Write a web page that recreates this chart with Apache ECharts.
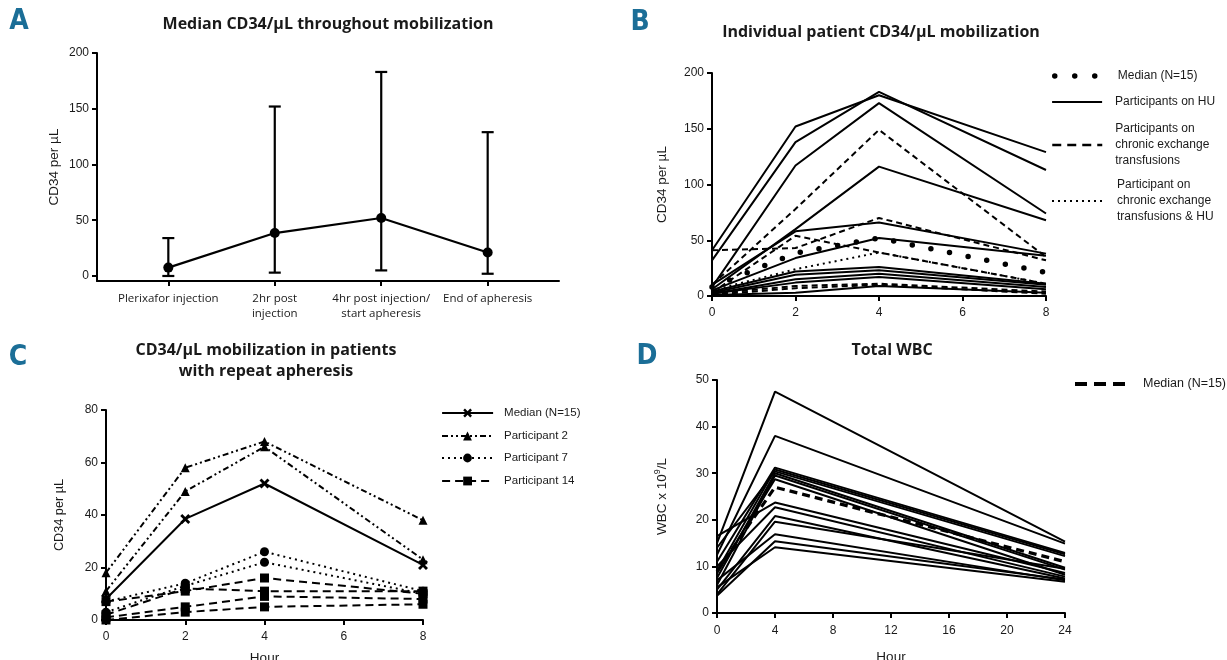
<!DOCTYPE html>
<html>
<head>
<meta charset="utf-8">
<title>CD34 mobilization</title>
<script src="https://cdn.jsdelivr.net/npm/echarts@6/dist/echarts.min.js"></script>
<style>
html,body{margin:0;padding:0;background:#fff;}
#chart{width:1227px;height:660px;}
</style>
</head>
<body>
<div id="chart"></div>
<script>
// ---------- Panel A : median with range ----------
const catsA = ['Plerixafor injection', '2hr post\ninjection', '4hr post injection/\nstart apheresis', 'End of apheresis'];
const medianA = [7.5, 38.5, 52, 21];
const lowA = [0, 3, 5, 2];
const highA = [34, 152, 183, 129];
const ticksA = [0, 50, 100, 150, 200];

// ---------- Panel B : individual patients ----------
const hoursB = [0, 2, 4, 8];
const medianB = [8, 38.5, 52, 21];
const huB = [
  [41, 152, 180, 129],
  [32, 138, 183, 113],
  [8, 117, 173, 74],
  [6, 60, 116, 68],
  [10, 58, 66, 38],
  [5, 34, 52, 36],
  [4, 22, 26, 11],
  [3, 19, 23, 10],
  [2, 15, 20, 8],
  [2, 12, 17, 6],
  [1, 3, 9, 3]
];
const exchangeB = [
  [10, 78, 149, 35],
  [41, 43, 70, 32],
  [3, 54, 39, 11],
  [2, 9, 11, 4],
  [1, 7, 10, 2]
];
const exchangeHuB = [5, 24, 39, 11];

// ---------- Panel C : repeat apheresis ----------
const hoursC = [0, 2, 4, 8];
const medianC = [8, 38.5, 52, 21];
const p2C = [[18, 58, 68, 38], [11, 49, 66, 23]];
const p7C = [[7, 14, 26, 11], [3, 13, 22, 10]];
const p14C = [[7, 11, 16, 10], [2, 12, 11, 11], [1, 5, 9, 8], [0, 3, 5, 6]];

// ---------- Panel D : total WBC ----------
const hoursD = [0, 4, 24];
const medianD = [9, 27, 11];
const wbcD = [
  [15, 47.5, 15.3],
  [12.5, 38, 14.9],
  [11, 31.2, 12.9],
  [9, 30.8, 12.6],
  [14, 30.4, 12.2],
  [7.5, 30, 9.7],
  [6, 29.5, 9.3],
  [8.5, 28.7, 8.2],
  [16.5, 23.7, 8.6],
  [10, 22.7, 7.8],
  [5, 20.8, 7.4],
  [4, 19.6, 9.5],
  [7, 16.9, 7.0],
  [3.7, 15.4, 7.2],
  [5.5, 14.1, 6.7]
];

// ---------- helpers ----------
const SANS = "'Liberation Sans', Arial, sans-serif";
const HUMAN = "'Open Sans', 'Noto Sans', sans-serif";
const INK = '#1a1a1a';
const LETTER = '#1b6e97';

function merge(a, b) {
  const out = Object.assign({}, a);
  for (const k in b) {
    const bv = b[k], av = a[k];
    if (bv && typeof bv === 'object' && !Array.isArray(bv) && typeof bv !== 'function' &&
        av && typeof av === 'object' && !Array.isArray(av)) out[k] = merge(av, bv);
    else out[k] = bv;
  }
  return out;
}
const axisBase = {
  type: 'value',
  axisLine: { show: true, onZero: false, lineStyle: { color: '#000', width: 2 } },
  axisTick: { show: true, length: 5, lineStyle: { color: '#000', width: 2 } },
  splitLine: { show: false },
  axisLabel: { color: INK, fontFamily: SANS, fontSize: 12, margin: 8 },
  nameTextStyle: { color: INK, fontFamily: SANS, fontSize: 13.5 }
};
const ax = (o) => merge(axisBase, o);

function pts(xs, ys) { return xs.map((x, i) => [x, ys[i]]); }
function line(name, gi, xs, ys, lineStyle, extra) {
  return merge({
    type: 'line', name: name, xAxisIndex: gi, yAxisIndex: gi,
    data: pts(xs, ys), symbol: 'none', clip: false, silent: true,
    lineStyle: merge({ color: '#000', width: 2 }, lineStyle || {}),
    itemStyle: { color: '#000' }
  }, extra || {});
}

const series = [];
// Panel A
series.push({
  type: 'custom', name: 'rangeA', xAxisIndex: 0, yAxisIndex: 0, silent: true, clip: false,
  data: medianA.map((m, i) => [i, lowA[i], highA[i]]),
  renderItem: function (params, api) {
    const x = api.value(0);
    const lo = api.coord([x, api.value(1)]);
    const hi = api.coord([x, api.value(2)]);
    const w = 6, st = { stroke: '#000', lineWidth: 2.2 };
    return { type: 'group', children: [
      { type: 'line', shape: { x1: lo[0], y1: lo[1], x2: hi[0], y2: hi[1] }, style: st },
      { type: 'line', shape: { x1: hi[0] - w, y1: hi[1], x2: hi[0] + w, y2: hi[1] }, style: st },
      { type: 'line', shape: { x1: lo[0] - w, y1: lo[1], x2: lo[0] + w, y2: lo[1] }, style: st }
    ] };
  }
});
series.push(line('Median A', 0, [0, 1, 2, 3], medianA, { width: 2.2 }, { symbol: 'circle', symbolSize: 10, z: 5 }));

// Panel B
huB.forEach(r => series.push(line('Participants on HU', 1, hoursB, r, { type: 'solid' })));
exchangeB.forEach(r => series.push(line('Participants on\nchronic exchange\ntransfusions', 1, hoursB, r, { type: [6, 4] })));
series.push(line('Participant on\nchronic exchange\ntransfusions & HU', 1, hoursB, exchangeHuB, { type: [2, 4] }));
series.push(line('Median (N=15)', 1, hoursB, medianB, { width: 5.5, type: [0, 19], cap: 'round' }, { z: 6 }));

// Panel C
const xPath = 'path://M2,0L5,3L8,0L10,2L7,5L10,8L8,10L5,7L2,10L0,8L3,5L0,2Z';
series.push(line('Median (N=15) ', 2, hoursC, medianC, { type: 'solid' }, { symbol: xPath, symbolSize: 10, z: 6 }));
p2C.forEach(r => series.push(line('Participant 2', 2, hoursC, r, { type: [6, 3, 2, 3, 2, 3] }, { symbol: 'triangle', symbolSize: 9 })));
p7C.forEach(r => series.push(line('Participant 7', 2, hoursC, r, { type: [2, 4] }, { symbol: 'circle', symbolSize: 9 })));
p14C.forEach(r => series.push(line('Participant 14', 2, hoursC, r, { type: [8, 5] }, { symbol: 'rect', symbolSize: 9 })));

// Panel D
wbcD.forEach((r, i) => series.push(line('Patient ' + (i + 1), 3, hoursD, r, { type: 'solid' })));
series.push(line('Median (N=15)  ', 3, hoursD, medianD, { width: 3.2, type: [8, 5] }, { z: 6 }));

// ---------- legends ----------
const legTxt = (size, pad) => ({ color: INK, fontFamily: SANS, fontSize: size, lineHeight: 16, padding: [0, 0, 0, pad] });
function legend(name, left, centerY, lines, w, h, lineStyle, txt, showSym) {
  return {
    left: left, top: centerY - lines * 8, orient: 'vertical', padding: 0,
    selectedMode: false, itemWidth: w, itemHeight: h, data: [name],
    lineStyle: lineStyle, itemStyle: showSym ? {} : { opacity: 0 },
    textStyle: txt
  };
}
const legends = [
  legend('Median (N=15)', 1052, 76, 1, 44, 12, { width: 5.5, type: [0, 20], cap: 'round' }, legTxt(12, 14), false),
  legend('Participants on HU', 1051, 102, 1, 50, 12, { width: 2.2, type: 'solid' }, legTxt(12, 8), false),
  legend('Participants on\nchronic exchange\ntransfusions', 1051, 145, 3, 50, 12, { width: 2.5, type: [9, 6] }, legTxt(12, 8), false),
  legend('Participant on\nchronic exchange\ntransfusions & HU', 1051, 201, 3, 50, 12, { width: 2, type: [2, 4] }, legTxt(12, 10), false),
  legend('Median (N=15) ', 441, 413, 1, 51, 11, { width: 2.2, type: 'solid' }, legTxt(11.5, 6), true),
  legend('Participant 2', 441, 436, 1, 51, 11, { width: 2, type: [6, 3, 2, 3, 2, 3] }, legTxt(11.5, 6), true),
  legend('Participant 7', 441, 458, 1, 51, 11, { width: 2, type: [2, 4] }, legTxt(11.5, 6), true),
  legend('Participant 14', 441, 481, 1, 51, 11, { width: 2.2, type: [8, 5] }, legTxt(11.5, 6), true),
  legend('Median (N=15)  ', 1073, 384, 1, 55, 12, { width: 4, type: [12, 7] }, legTxt(12.5, 8), false)
];

// ---------- texts ----------
const txt = (x, y, text, font, fill, lh) => ({
  type: 'text', x: x, y: y, silent: true,
  style: { text: text, font: font, fill: fill || INK, align: 'center', verticalAlign: 'middle',
           textAlign: 'center', textVerticalAlign: 'middle', lineHeight: lh || 20 }
});
const letterFont = "bold 28px 'Liberation Sans Narrow', 'DejaVu Sans Condensed', sans-serif";
const titleFont = "bold 16px 'Open Sans', 'Noto Sans', sans-serif";
const graphics = [
  txt(19, 22, 'A', letterFont, LETTER),
  txt(640, 23, 'B', letterFont, LETTER),
  txt(18, 358, 'C', letterFont, LETTER),
  txt(647, 357, 'D', letterFont, LETTER),
  txt(328, 24, 'Median CD34/\u03bcL throughout mobilization', titleFont),
  txt(881, 32, 'Individual patient CD34/\u03bcL mobilization', titleFont),
  txt(266, 361, 'CD34/\u03bcL mobilization in patients\nwith repeat apheresis', titleFont, INK, 21),
  txt(892, 350, 'Total WBC', titleFont)
];

const gridBase = { containLabel: false, outerBoundsMode: 'none' };
const option = {
  animation: false,
  backgroundColor: '#fff',
  grid: [
    merge(gridBase, { left: 97, top: 53, width: 462, height: 228 }),
    merge(gridBase, { left: 712, top: 73, width: 334, height: 223 }),
    merge(gridBase, { left: 106, top: 410, width: 317, height: 210 }),
    merge(gridBase, { left: 717, top: 380, width: 348, height: 233 })
  ],
  xAxis: [
    ax({ gridIndex: 0, min: -0.67, max: 3.67,
         axisTick: { customValues: [0, 1, 2, 3] },
         axisLabel: { customValues: [0, 1, 2, 3], formatter: v => catsA[Math.round(v)],
                      fontFamily: HUMAN, fontSize: 11.5, lineHeight: 15, margin: 10 } }),
    ax({ gridIndex: 1, min: 0, max: 8, interval: 2, axisLabel: { margin: 11 } }),
    ax({ gridIndex: 2, min: 0, max: 8, interval: 2, axisLabel: { margin: 11 },
         name: 'Hour', nameLocation: 'middle', nameGap: 31 }),
    ax({ gridIndex: 3, min: 0, max: 24, interval: 4, axisLabel: { margin: 12 },
         name: 'Hour', nameLocation: 'middle', nameGap: 37 })
  ],
  yAxis: [
    ax({ gridIndex: 0, min: -4.5, max: 200,
         axisTick: { customValues: ticksA }, axisLabel: { customValues: ticksA },
         name: 'CD34 per \u00b5L', nameLocation: 'middle', nameRotate: 90, nameGap: 36 }),
    ax({ gridIndex: 1, min: 0, max: 200, interval: 50,
         name: 'CD34 per \u00b5L', nameLocation: 'middle', nameRotate: 90, nameGap: 43 }),
    ax({ gridIndex: 2, min: 0, max: 80, interval: 20,
         name: 'CD34 per \u00b5L', nameLocation: 'middle', nameRotate: 90, nameGap: 40,
         nameTextStyle: { fontSize: 12.7 } }),
    ax({ gridIndex: 3, min: 0, max: 50, interval: 10,
         name: 'WBC x 10{sup|9}/L', nameLocation: 'middle', nameRotate: 90, nameGap: 46,
         nameTextStyle: { fontSize: 13.5, lineHeight: 18, rich: { sup: { fontSize: 9, verticalAlign: 'top', lineHeight: 18, fontFamily: SANS, color: INK } } } })
  ],
  legend: legends,
  graphic: graphics,
  series: series
};
const chart = echarts.init(document.getElementById('chart'));
chart.setOption(option);
</script>
</body>
</html>
